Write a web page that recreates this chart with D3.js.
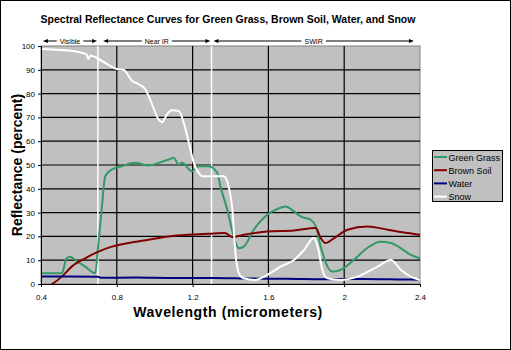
<!DOCTYPE html>
<html><head><meta charset="utf-8">
<script src="https://cdn.jsdelivr.net/npm/d3@7"></script>
<style>body{margin:0;background:#fff}svg{display:block;font-family:"Liberation Sans",Arial,sans-serif}</style>
</head><body>
<svg id="c" width="511" height="350"></svg>
<script>
const titleText = "Spectral Reflectance Curves for Green Grass, Brown Soil, Water, and Snow";
const xLabel = "Wavelength (micrometers)";
const yLabel = "Reflectance (percent)";
const xTicks = [0.4, 0.8, 1.2, 1.6, 2, 2.4];
const yTicks = [0, 10, 20, 30, 40, 50, 60, 70, 80, 90, 100];
const bandNames = ["Visible", "Near IR", "SWIR"];
const bandStart = [0.41, 0.728, 1.31];
const bandEnd = [0.696, 1.294, 2.368];
const bandDividers = [0.7, 1.3];

const seriesNames = ["Green Grass", "Brown Soil", "Water", "Snow"];
const seriesColors = ["#339966", "#800000", "#000080", "#ffffff"];

const grassW = [0.4,0.51,0.535,0.553,0.58,0.633,0.686,0.703,0.72,0.739,0.774,0.827,0.897,0.968,1.02,1.074,1.1,1.127,1.144,1.197,1.232,1.285,1.33,1.347,1.383,1.417,1.444,1.47,1.523,1.594,1.647,1.691,1.735,1.77,1.823,1.85,1.876,1.912,1.938,1.98,2.05,2.12,2.19,2.246,2.3,2.352,2.4];
const grassV = [4.5,4.5,10.8,11.5,10.1,7.3,4.5,17.2,31.2,45.3,48.1,49.5,50.9,49.8,50.9,52.3,53,50.2,50.9,47.4,49.5,49.5,46.7,41,31.2,20,15,15.7,22.8,29.1,31.5,32.6,30.5,28.4,27,24.2,15.7,7.3,5.2,5.9,10.1,15,17.8,17.2,15,12.2,10.8];

const soilW = [0.45,0.51,0.562,0.633,0.703,0.774,0.862,0.968,1.074,1.18,1.285,1.37,1.41,1.47,1.594,1.735,1.85,1.876,1.9,1.947,2.017,2.123,2.23,2.335,2.4];
const soilV = [-0.5,3.1,7.3,10.8,13.6,15.7,17.2,18.6,20,20.7,21.1,21.4,19.7,20.7,22.1,22.5,23.5,19.3,17.2,19.3,22.8,24.2,22.8,21.4,20.7];

const waterW = [0.4,0.55,0.7,0.72,0.9,1.1,1.3,1.5,1.7,1.9,2.1,2.3,2.4];
const waterV = [3.1,3.1,3.0,2.6,2.7,2.5,2.5,2.3,2.2,2.0,2.1,1.9,1.8];

const snowW = [0.4,0.5,0.6,0.64,0.65,0.66,0.72,0.78,0.8,0.835,0.88,0.915,0.95,0.986,1.02,1.04,1.065,1.09,1.127,1.153,1.18,1.206,1.232,1.25,1.365,1.39,1.41,1.426,1.444,1.47,1.53,1.594,1.665,1.735,1.788,1.84,1.86,1.885,1.912,1.98,2.07,2.176,2.246,2.3,2.352,2.4];
const snowV = [98.7,98.3,97.5,96.5,94.5,96,93.8,91,90.3,90,85.4,84,81.9,75.5,69.2,68,71.3,73,72.7,67.8,59.4,50.9,46.7,45.3,45.3,41,31.2,13,4.5,2.4,1.7,3.8,7.3,10.1,14.3,19.3,15.7,5.9,2.4,1.7,3.1,7.3,10.1,5.9,3.1,1.7];

const seriesW = [grassW, soilW, waterW, snowW];
const seriesV = [grassV, soilV, waterV, snowV];

const svg = d3.select("#c");
const L = 41, R = 420, T = 46, B = 284;
const x = d3.scaleLinear().domain([0.4, 2.4]).range([L, R]);
const y = d3.scaleLinear().domain([0, 100]).range([B, T]);

svg.append("rect").attr("x",0.5).attr("y",0.5).attr("width",510).attr("height",349)
  .attr("fill","#fff").attr("stroke","#000");

svg.append("text").attr("x",228).attr("y",23).attr("text-anchor","middle")
  .attr("font-size",10.5).attr("font-weight","bold").text(titleText);

svg.append("rect").attr("x",L).attr("y",T).attr("width",R-L).attr("height",B-T)
  .attr("fill","#c0c0c0").attr("stroke","#808080");

// gridlines
svg.append("g").selectAll("line").data(yTicks.filter(d=>d>0 && d<100)).join("line")
  .attr("x1",L).attr("x2",R).attr("y1",d=>y(d)).attr("y2",d=>y(d))
  .attr("stroke","#000").attr("stroke-width",1.2);
svg.append("g").selectAll("line").data(xTicks.filter(d=>d>0.4 && d<2.4)).join("line")
  .attr("y1",T).attr("y2",B).attr("x1",d=>x(d)).attr("x2",d=>x(d))
  .attr("stroke","#000").attr("stroke-width",1.2);

// band dividers
svg.append("g").selectAll("line").data(bandDividers).join("line")
  .attr("y1",T).attr("y2",B).attr("x1",d=>x(d)).attr("x2",d=>x(d))
  .attr("stroke","#fff").attr("stroke-width",1.5);

// clip
svg.append("clipPath").attr("id","clip").append("rect")
  .attr("x",L).attr("y",T-2).attr("width",R-L).attr("height",B-T+2);

const line = d3.line().x(d=>x(d[0])).y(d=>y(d[1])).curve(d3.curveMonotoneX);
const gl = svg.append("g").attr("clip-path","url(#clip)");
seriesNames.forEach((n,i)=>{
  const pts = seriesW[i].map((w,j)=>[w, seriesV[i][j]]);
  gl.append("path").datum(pts).attr("d",line).attr("fill","none")
    .attr("stroke",seriesColors[i]).attr("stroke-width",2).attr("stroke-linejoin","round");
});

// axes
const xa = svg.append("g").attr("transform",`translate(0,${B})`)
  .call(d3.axisBottom(x).tickValues(xTicks).tickSize(3).tickFormat(d3.format("")));
const ya = svg.append("g").attr("transform",`translate(${L},0)`)
  .call(d3.axisLeft(y).tickValues(yTicks).tickSize(3).tickFormat(d3.format("")));
[xa, ya].forEach(a=>{
  a.select(".domain").attr("stroke","#000");
  a.selectAll(".tick line").attr("stroke","#000");
  a.selectAll("text").attr("font-size",8).attr("fill","#000")
    .attr("font-family","'Liberation Sans',Arial,sans-serif");
});
xa.selectAll("text").attr("dy","1.3em");

svg.append("text").attr("x",228).attr("y",317).attr("text-anchor","middle")
  .attr("font-size",14).attr("font-weight","bold").attr("letter-spacing",0.6).text(xLabel);
svg.append("text").attr("transform",`translate(22,${(T+B)/2}) rotate(-90)`)
  .attr("text-anchor","middle").attr("font-size",14).attr("font-weight","bold").text(yLabel);

// band arrows
const ay = 41;
const bg = svg.append("g");
bandNames.forEach((n,i)=>{
  const x1 = x(bandStart[i]), x2 = x(bandEnd[i]), cx = (x1+x2)/2;
  const t = bg.append("text").attr("x",cx).attr("y",ay+2.5).attr("text-anchor","middle")
    .attr("font-size",7).text(n);
  const tw = t.node().getComputedTextLength();
  bg.append("line").attr("x1",x1+3).attr("x2",cx-tw/2-3).attr("y1",ay).attr("y2",ay).attr("stroke","#000");
  bg.append("line").attr("x1",cx+tw/2+3).attr("x2",x2-3).attr("y1",ay).attr("y2",ay).attr("stroke","#000");
  bg.append("path").attr("d",`M${x1},${ay}L${x1+5},${ay-2}L${x1+5},${ay+2}Z`).attr("fill","#000");
  bg.append("path").attr("d",`M${x2},${ay}L${x2-5},${ay-2}L${x2-5},${ay+2}Z`).attr("fill","#000");
});

// legend
const lg = svg.append("g");
lg.append("rect").attr("x",432.5).attr("y",150.5).attr("width",70).attr("height",51)
  .attr("fill","#c0c0c0").attr("stroke","#000");
seriesNames.forEach((n,i)=>{
  const ly = 157 + i*13.2;
  lg.append("line").attr("x1",434).attr("x2",447).attr("y1",ly).attr("y2",ly)
    .attr("stroke",seriesColors[i]).attr("stroke-width",2);
  lg.append("text").attr("x",448.5).attr("y",ly+3.5).attr("font-size",9).attr("fill","#000").text(n);
});
</script>
</body></html>
